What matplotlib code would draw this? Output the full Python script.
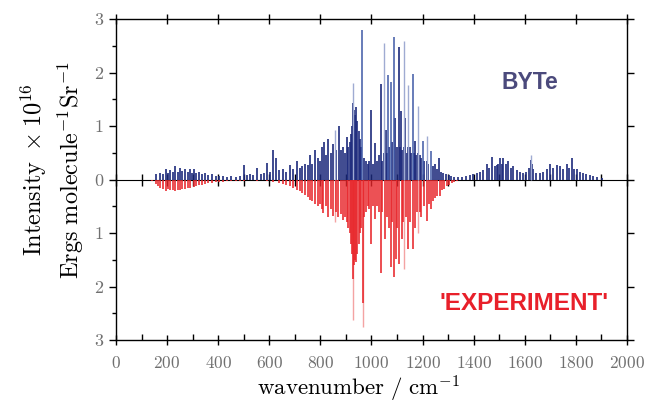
import matplotlib
matplotlib.use("Agg")
import matplotlib.pyplot as plt
from matplotlib.ticker import MultipleLocator, FixedLocator, FixedFormatter

plt.rcParams['font.family'] = ['cmr10', 'DejaVu Serif']
plt.rcParams['mathtext.fontset'] = 'cm'
plt.rcParams['axes.formatter.use_mathtext'] = True

# ---- BYTe (computed) sticks, wavenumber / cm-1 and intensity (x1e16) ----
byte_dark_wn = [157, 172, 183, 196, 204, 211, 222, 232, 241, 250, 260, 270, 280, 290, 298, 305,
                315, 326, 337, 348, 362, 375, 390, 405, 420, 436, 452, 468, 485, 501, 512, 524,
                538, 553, 566, 578, 590, 603, 616, 626, 640, 654, 667, 681, 694, 707, 720, 730,
                740, 750, 759, 769, 779, 790, 798, 805, 814, 822, 830, 840, 851, 863, 872, 880,
                888, 895, 903, 910, 915, 920, 925, 929, 933, 937, 941, 945, 950, 955, 960, 970,
                978, 985, 991, 997, 1005, 1014, 1020, 1029, 1036, 1043, 1050, 1057, 1062, 1070,
                1081, 1093, 1099, 1106, 1110, 1115, 1120, 1126, 1132, 1138, 1143, 1150, 1155,
                1165, 1170, 1176, 1183, 1190, 1195, 1207, 1216, 1222, 1240, 1248, 1257, 1265,
                1272, 1282, 1292, 1302, 1312, 1325, 1340, 1355, 1372, 1385, 1399, 1412, 1425,
                1438, 1451, 1462, 1473, 1482, 1490, 1497, 1503, 1510, 1516, 1525, 1536, 1545,
                1555, 1568, 1581, 1594, 1607, 1616, 1624, 1628, 1633, 1645, 1660, 1672, 1686,
                1699, 1712, 1725, 1738, 1750, 1764, 1775, 1784, 1793, 1803, 1815, 1829, 1842,
                1855, 1868, 1885, 1901]
byte_dark_int = [0.10, 0.13, 0.10, 0.19, 0.12, 0.17, 0.14, 0.25, 0.15, 0.22, 0.16, 0.19, 0.14, 0.19, 0.12, 0.20,
                 0.12, 0.15, 0.10, 0.12, 0.08, 0.10, 0.07, 0.06, 0.06, 0.05, 0.06, 0.05, 0.07, 0.28, 0.08, 0.10,
                 0.08, 0.22, 0.10, 0.12, 0.31, 0.15, 0.56, 0.40, 0.18, 0.20, 0.15, 0.28, 0.20, 0.35, 0.22, 0.25,
                 0.30, 0.28, 0.45, 0.30, 0.55, 0.40, 0.35, 0.60, 0.70, 0.45, 0.76, 0.50, 0.66, 0.55, 1.00, 0.55,
                 0.60, 0.50, 0.79, 0.60, 0.70, 0.85, 1.00, 1.43, 1.30, 1.20, 1.35, 1.10, 0.90, 0.75, 0.60, 0.40,
                 0.35, 0.30, 0.35, 1.30, 0.30, 0.68, 0.35, 0.45, 1.79, 0.35, 0.50, 0.93, 0.50, 0.60,
                 0.70, 1.15, 0.60, 2.47, 0.60, 1.28, 0.55, 0.60, 1.15, 0.50, 0.60, 0.60, 0.50,
                 0.50, 0.72, 0.45, 0.50, 0.45, 0.40, 0.35, 0.35, 0.30, 0.25, 0.30, 0.20, 0.40,
                 0.15, 0.12, 0.10, 0.08, 0.06, 0.05, 0.04, 0.05, 0.06, 0.08, 0.10, 0.12, 0.15,
                 0.18, 0.30, 0.22, 0.43, 0.25, 0.28, 0.30, 0.40, 0.30, 0.40, 0.30, 0.34, 0.22,
                 0.25, 0.18, 0.15, 0.12, 0.15, 0.22, 0.37, 0.30, 0.20, 0.12, 0.12, 0.15, 0.20,
                 0.30, 0.22, 0.28, 0.26, 0.20, 0.30, 0.22, 0.40, 0.20, 0.20, 0.15, 0.12, 0.10,
                 0.08, 0.06, 0.04, 0.03]
byte_mid_wn = [964, 1066, 1075, 1087, 1161, 1200, 1233]
byte_mid_int = [2.79, 1.96, 1.82, 2.67, 1.97, 0.72, 0.53]
byte_pale_wn = [857, 929, 1050, 1126, 1143, 1183, 1216, 1624]
byte_pale_int = [0.93, 1.80, 2.55, 2.59, 1.76, 1.37, 0.81, 0.45]

# ---- experiment sticks (plotted downward) ----
exp_wn = [140, 157, 165, 172, 183, 196, 204, 211, 222, 232, 241, 250, 260, 270, 280, 290, 305,
          315, 326, 337, 348, 362, 375, 390, 405, 420, 436, 452, 468, 485, 501, 553, 590, 616,
          640, 654, 667, 681, 694, 707, 720, 730, 740, 750, 759, 769, 779, 790, 798, 805, 811,
          822, 831, 840, 851, 863, 870, 880, 888, 895, 903, 910, 915, 920, 925, 929, 933, 937,
          941, 945, 950, 955, 960, 966, 972, 978, 985, 991, 998, 1005, 1014, 1022, 1029, 1036,
          1043, 1053, 1060, 1068, 1076, 1082, 1088, 1096, 1102, 1108, 1118, 1124, 1135, 1144,
          1152, 1161, 1170, 1177, 1190, 1196, 1205, 1216, 1225, 1233, 1242, 1250, 1258, 1268,
          1275, 1285, 1295, 1305, 1315, 1325, 1335]
exp_int = [0.03, 0.08, 0.12, 0.15, 0.18, 0.22, 0.18, 0.20, 0.20, 0.22, 0.20, 0.20, 0.18, 0.18, 0.16, 0.15, 0.14,
           0.12, 0.10, 0.10, 0.08, 0.07, 0.06, 0.05, 0.04, 0.04, 0.03, 0.03, 0.02, 0.02, 0.02, 0.02, 0.03, 0.05,
           0.06, 0.08, 0.10, 0.12, 0.15, 0.20, 0.22, 0.25, 0.28, 0.32, 0.38, 0.40, 0.45, 0.50, 0.45, 0.55, 0.62,
           0.50, 0.70, 0.55, 0.68, 0.60, 0.70, 0.65, 0.75, 0.70, 0.80, 0.90, 1.00, 1.20, 1.40, 1.86, 1.60, 1.50,
           1.55, 1.40, 1.20, 1.00, 0.90, 2.30, 0.70, 0.60, 0.50, 0.55, 1.21, 0.50, 0.74, 0.50, 0.60, 1.74,
           0.60, 1.12, 0.70, 0.90, 1.64, 0.80, 1.83, 1.49, 0.90, 1.58, 1.12, 0.80, 0.70, 1.30,
           0.80, 1.30, 0.90, 0.60, 0.60, 0.70, 0.50, 0.78, 0.45, 0.55, 0.40, 0.35, 0.30, 0.30,
           0.20, 0.18, 0.12, 0.10, 0.07, 0.05, 0.03]
exp_pale_wn = [857, 929, 966, 1127, 1183]
exp_pale_int = [0.80, 2.63, 2.76, 1.68, 0.99]

xticks = [0, 200, 400, 600, 800, 1000, 1200, 1400, 1600, 1800, 2000]
yticks = [-3, -2, -1, 0, 1, 2, 3]
ytick_labels = ['3', '2', '1', '0', '1', '2', '3']

fig = plt.figure(figsize=(6.69, 4.15), dpi=100)
ax = fig.add_axes([0.1734, 0.1807, 0.7636, 0.7733])

ax.vlines(byte_dark_wn, 0, byte_dark_int, color='#1c2a7c', lw=1.2)
ax.vlines(byte_pale_wn, 0, byte_pale_int, color='#9fabd2', lw=1.0)
ax.vlines(byte_mid_wn, 0, byte_mid_int, color='#3f58a6', lw=1.1)
ax.vlines(exp_pale_wn, 0, [-v for v in exp_pale_int], color='#f4a3a3', lw=1.0)
ax.vlines(exp_wn, 0, [-v for v in exp_int], color='#e8262b', lw=1.15)

ax.set_xlim(0, 2000)
ax.set_ylim(-3, 3)
ax.xaxis.set_major_locator(FixedLocator(xticks))
ax.xaxis.set_minor_locator(MultipleLocator(100))
ax.yaxis.set_major_locator(FixedLocator(yticks))
ax.yaxis.set_major_formatter(FixedFormatter(ytick_labels))
ax.yaxis.set_minor_locator(MultipleLocator(0.5))

ax.tick_params(axis='x', which='major', direction='inout', length=7, width=1, labelsize=12.5,
               labelcolor='#707070', pad=7, top=True)
ax.tick_params(axis='x', which='minor', direction='in', length=4, width=1, top=False)
ax.tick_params(axis='y', which='major', direction='out', length=5, width=1, labelsize=13,
               labelcolor='#707070', right=True, pad=4)
ax.tick_params(axis='y', which='minor', direction='out', length=3, width=1)
for spine in ax.spines.values():
    spine.set_linewidth(1.0)

# zero baseline with its own ticks
zero = ax.secondary_xaxis(0.5)
zero.xaxis.set_major_locator(MultipleLocator(100))
zero.tick_params(direction='inout', length=8, width=1, labelbottom=False, labeltop=False)
zero.set_xticklabels([])

ax.set_xlabel(r'$\mathrm{wavenumber\ /\ cm^{-1}}$', fontsize=16.5)
ax.xaxis.set_label_coords(0.474, -0.105)
ax.set_ylabel(r'$\mathrm{Intensity}\ \times 10^{16}$' + '\n' + r'$\mathrm{Ergs\ molecule^{-1}Sr^{-1}}$',
              fontsize=17.5, linespacing=1.3)
ax.yaxis.set_label_coords(-0.058, 0.53)

ax.text(1620, 1.82, 'BYTe', fontsize=16.5, fontweight='bold', family='Liberation Sans',
        color='#4b4a7c', ha='center', va='center')
ax.text(1597, -2.31, "'EXPERIMENT'", fontsize=17.5, fontweight='bold', family='Liberation Sans',
        color='#e8202a', ha='center', va='center')

fig.savefig('out.png', dpi=100)
